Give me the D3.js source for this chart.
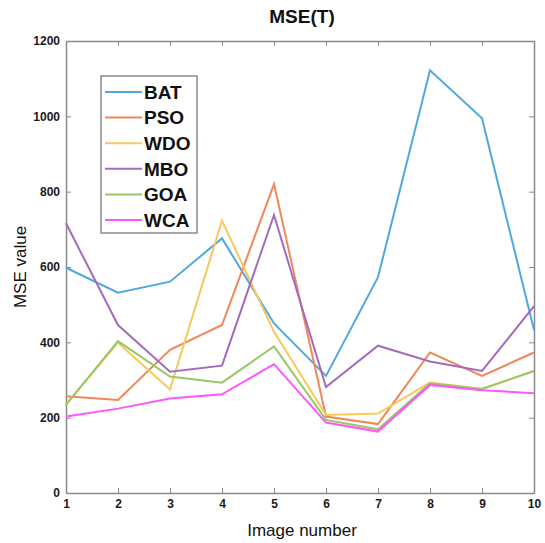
<!DOCTYPE html>
<html>
<head>
<meta charset="utf-8">
<script src="https://cdn.jsdelivr.net/npm/d3@7/dist/d3.min.js"></script>
<style>
  html, body { margin: 0; padding: 0; background: #fff; }
  svg { display: block; font-family: "Liberation Sans", Arial, sans-serif; }
</style>
</head>
<body>
<svg id="chart" width="545" height="543"></svg>
<script>
const imageNumbers = [1, 2, 3, 4, 5, 6, 7, 8, 9, 10];
const seriesNames = ["BAT", "PSO", "WDO", "MBO", "GOA", "WCA"];
const BAT = [598, 532, 561, 676, 450, 311, 573, 1122, 995, 433];
const PSO = [257, 247, 380, 446, 820, 203, 183, 373, 311, 373];
const WDO = [236, 399, 275, 723, 428, 207, 211, 293, 276, 324];
const MBO = [716, 446, 322, 338, 738, 281, 391, 349, 324, 496];
const GOA = [234, 403, 309, 293, 389, 194, 169, 291, 276, 324];
const WCA = [203, 224, 251, 262, 342, 187, 163, 287, 273, 265];
const yTicks = [0, 200, 400, 600, 800, 1000, 1200];
const colors = ["#4fa8e0", "#f0875a", "#fac75a", "#a46bbc", "#96c865", "#ff55ff"];
const seriesData = [BAT, PSO, WDO, MBO, GOA, WCA];

const svg = d3.select("#chart");
const mLeft = 66, mRight = 534, mTop = 41, mBottom = 493;

const x = d3.scaleLinear().domain([1, 10]).range([mLeft, mRight]);
const y = d3.scaleLinear().domain([0, 1200]).range([mBottom, mTop]);

const axisColor = "#8a8a8a";
const tickLen = 5;

const gB = svg.append("g").attr("transform", `translate(0,${mBottom})`)
  .call(d3.axisBottom(x).tickValues(imageNumbers).tickFormat(d3.format("d")).tickSizeInner(-tickLen).tickSizeOuter(0).tickPadding(8));
const gT = svg.append("g").attr("transform", `translate(0,${mTop})`)
  .call(d3.axisTop(x).tickValues(imageNumbers).tickFormat("").tickSizeInner(-tickLen).tickSizeOuter(0));
const gL = svg.append("g").attr("transform", `translate(${mLeft},0)`)
  .call(d3.axisLeft(y).tickValues(yTicks).tickFormat(d3.format("d")).tickSizeInner(-tickLen).tickSizeOuter(0).tickPadding(6));
const gR = svg.append("g").attr("transform", `translate(${mRight},0)`)
  .call(d3.axisRight(y).tickValues(yTicks).tickFormat("").tickSizeInner(-tickLen).tickSizeOuter(0));

[gB, gT, gL, gR].forEach(g => {
  g.select(".domain").attr("stroke", axisColor).attr("stroke-width", 1.5);
  g.selectAll(".tick line").attr("stroke", axisColor).attr("stroke-width", 1);
  g.selectAll(".tick text").attr("fill", "#1a1a1a").attr("font-size", 12).attr("font-weight", "bold");
});
gB.selectAll(".tick text").attr("dy", "0.6em");

const line = d3.line().x((d, i) => x(imageNumbers[i])).y(d => y(d));
seriesData.forEach((s, k) => {
  svg.append("path")
    .datum(s)
    .attr("fill", "none")
    .attr("stroke", colors[k])
    .attr("stroke-width", 2)
    .attr("stroke-linejoin", "miter")
    .attr("d", line);
});

svg.append("text").attr("x", (mLeft + mRight) / 2 + 2).attr("y", 23)
  .attr("text-anchor", "middle").attr("font-size", 19).attr("font-weight", "bold")
  .attr("fill", "#111").text("MSE(T)");

svg.append("text").attr("x", (mLeft + mRight) / 2 + 2).attr("y", 536)
  .attr("text-anchor", "middle").attr("font-size", 17).attr("fill", "#111").text("Image number");
svg.append("text").attr("transform", `translate(26,${(mTop + mBottom) / 2}) rotate(-90)`)
  .attr("text-anchor", "middle").attr("font-size", 17).attr("fill", "#111").text("MSE value");

const lg = svg.append("g");
lg.append("rect").attr("x", 101).attr("y", 76).attr("width", 96).attr("height", 157)
  .attr("fill", "#fff").attr("stroke", "#8a8a8a").attr("stroke-width", 1.5);
seriesNames.forEach((n, k) => {
  const yy = 92 + k * 25.6;
  lg.append("line").attr("x1", 105).attr("x2", 142).attr("y1", yy).attr("y2", yy)
    .attr("stroke", colors[k]).attr("stroke-width", 2);
  lg.append("text").attr("x", 144).attr("y", yy).attr("dy", "0.36em")
    .attr("font-size", 19).attr("font-weight", "bold").attr("fill", "#111").text(n);
});
</script>
</body>
</html>
